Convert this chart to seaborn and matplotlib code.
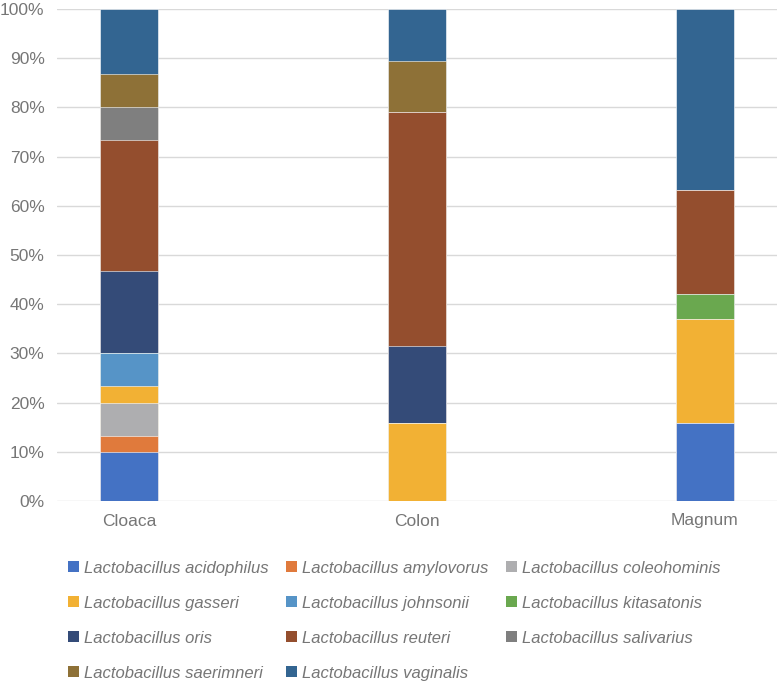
import numpy as np
import pandas as pd
import matplotlib
matplotlib.use("Agg")
import matplotlib.pyplot as plt
import seaborn as sns
from matplotlib.patches import Patch
from matplotlib.ticker import PercentFormatter

sites = ['Cloaca', 'Colon', 'Magnum']
species = ['Lactobacillus acidophilus', 'Lactobacillus amylovorus', 'Lactobacillus coleohominis',
           'Lactobacillus gasseri', 'Lactobacillus johnsonii', 'Lactobacillus kitasatonis',
           'Lactobacillus oris', 'Lactobacillus reuteri', 'Lactobacillus salivarius',
           'Lactobacillus saerimneri', 'Lactobacillus vaginalis']

# percent of each site, bottom to top
cloaca = [10.0, 3.3, 6.7, 3.3, 6.7, 0.0, 16.7, 26.6, 6.7, 6.7, 13.3]
colon = [0.0, 0.0, 0.0, 15.8, 0.0, 0.0, 15.8, 47.4, 0.0, 10.5, 10.5]
magnum = [15.8, 0.0, 0.0, 21.1, 0.0, 5.2, 0.0, 21.1, 0.0, 0.0, 36.8]

colors = ['#4472C4', '#E07A3C', '#AEAEB0', '#F2B134', '#5694C7', '#6AA84F',
          '#344B78', '#944E2E', '#7F7F7F', '#8E7137', '#336591']

df = pd.DataFrame({'Cloaca': cloaca, 'Colon': colon, 'Magnum': magnum}, index=species)
cum = df.cumsum()

sns.set_style('white')
plt.rcParams['font.family'] = ['Liberation Sans', 'DejaVu Sans']

fig = plt.figure(figsize=(7.77, 6.82), dpi=100)
ax = fig.add_axes([57 / 777, 1 - 501 / 682, 720 / 777, 492 / 682])

# draw cumulative totals from the top series down so each layer sits on the one below
for i in range(len(species) - 1, -1, -1):
    d = pd.DataFrame({'site': sites, 'value': cum.iloc[i].values})
    sns.barplot(data=d, x='site', y='value', color=colors[i], width=0.2,
                saturation=1, ax=ax, edgecolor='white', linewidth=0.4, zorder=3)

ax.set_ylim(0, 100)
ax.set_xlim(-0.25, 2.25)
ax.set_yticks(np.arange(0, 101, 10))
ax.yaxis.set_major_formatter(PercentFormatter(decimals=0))
ax.grid(axis='y', color='#D9D9D9', linewidth=1, zorder=0)
ax.set_axisbelow(True)
for s in ax.spines.values():
    s.set_visible(False)
ax.set_xlabel('')
ax.set_ylabel('')
ax.tick_params(axis='both', length=0, labelsize=12.5, colors='#767676')
ax.tick_params(axis='x', pad=9)
ax.tick_params(axis='y', pad=9)

handles = [Patch(facecolor=c, edgecolor='none') for c in colors]
order = [0, 3, 6, 9, 1, 4, 7, 10, 2, 5, 8]
leg = fig.legend([handles[i] for i in order], [species[i] for i in order],
                 loc='upper left', bbox_to_anchor=(61 / 777, 1 - 554 / 682), ncol=3,
                 frameon=False, prop={'style': 'italic', 'size': 12},
                 handlelength=0.66, handleheight=0.66, handletextpad=0.3,
                 columnspacing=1.05, labelspacing=1.2, borderaxespad=0)
for t in leg.get_texts():
    t.set_color('#767676')

fig.savefig('out.png', dpi=100)
